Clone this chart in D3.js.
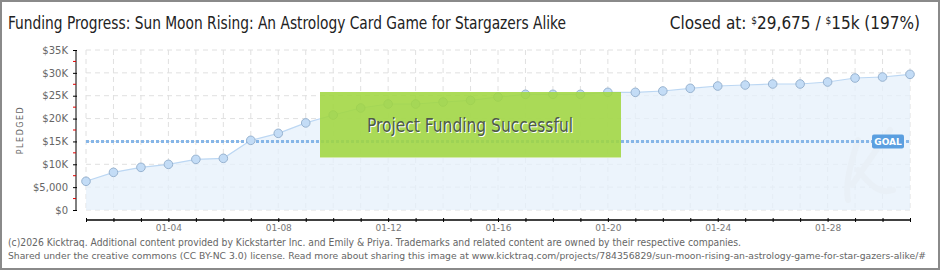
<!DOCTYPE html>
<html>
<head>
<meta charset="utf-8">
<script src="https://cdn.jsdelivr.net/npm/d3@7"></script>
<style>
  body { margin: 0; background: #fff; }
  svg { display: block; }
</style>
</head>
<body>
<svg id="chart" width="940" height="270"></svg>
<script>
// days of the campaign (January)
var days = d3.range(1, 32);
var pledged = [6280, 8240, 9330, 9990, 11080, 11300, 15240, 16770, 19050, 20780,
               22310, 23190, 23190, 23620, 23990, 24720, 25300, 25300, 25300, 25740,
               25740, 26030, 26620, 27120, 27340, 27560, 27560, 28000, 28870, 29090, 29675];
var yTicks = [0, 5000, 10000, 15000, 20000, 25000, 30000, 35000];
var yTickLabels = ["$0", "$5,000", "$10K", "$15K", "$20K", "$25K", "$30K", "$35K"];
var xTickLabels = ["01-04", "01-08", "01-12", "01-16", "01-20", "01-24", "01-28"];
var goal = 15000;

var svg = d3.select("#chart");

// set the dimensions of the plot
var margin = {top: 50, right: 30, bottom: 60, left: 86},
    width = 940 - margin.left - margin.right,
    height = 270 - margin.top - margin.bottom;

var x = d3.scaleLinear().domain([1, 31]).range([margin.left, margin.left + width]);
var y = d3.scaleLinear().domain([0, 35000]).range([margin.top + height, margin.top]);

// outer frame
svg.append("rect")
    .attr("x", 1).attr("y", 1).attr("width", 938).attr("height", 268)
    .style("fill", "#fff").style("stroke", "#8a8a8a").style("stroke-width", 2);

// title
svg.append("text")
    .attr("x", 8).attr("y", 29)
    .attr("textLength", 558).attr("lengthAdjust", "spacingAndGlyphs")
    .style("font-family", "'DejaVu Sans Condensed', 'Liberation Sans Narrow', sans-serif")
    .style("font-size", "17px")
    .style("fill", "#222")
    .text("Funding Progress: Sun Moon Rising: An Astrology Card Game for Stargazers Alike");

var closedText = svg.append("text")
    .attr("x", 920).attr("y", 29)
    .attr("text-anchor", "end")
    .style("font-family", "'DejaVu Sans Condensed', 'Liberation Sans Narrow', sans-serif")
    .style("font-size", "17px")
    .style("fill", "#222");
closedText.append("tspan").text("Closed at:  ");
closedText.append("tspan").style("font-size", "10px").attr("dy", -5).text("$");
closedText.append("tspan").attr("dy", 5).text("29,675 /  ");
closedText.append("tspan").style("font-size", "10px").attr("dy", -5).text("$");
closedText.append("tspan").attr("dy", 5).text("15k (197%)");

// plot background area
var g = svg.append("g");

// grid
g.selectAll(".hgrid")
    .data(yTicks)
    .enter()
    .append("line")
        .attr("x1", x(1)).attr("x2", x(31))
        .attr("y1", function(d) { return y(d); })
        .attr("y2", function(d) { return y(d); })
        .style("stroke", "#e0e0e0")
        .style("stroke-dasharray", "5,4");

g.selectAll(".vgrid")
    .data(days)
    .enter()
    .append("line")
        .attr("x1", function(d) { return x(d); })
        .attr("x2", function(d) { return x(d); })
        .attr("y1", y(35000)).attr("y2", y(0))
        .style("stroke", "#e0e0e0")
        .style("stroke-dasharray", "5,4");

// area under the line
var series = days.map(function(d, i) { return {day: d, value: pledged[i]}; });

g.append("path")
    .datum(series)
    .attr("d", d3.area()
        .x(function(d) { return x(d.day); })
        .y0(y(0))
        .y1(function(d) { return y(d.value); }))
    .style("fill", "#e6f0fb")
    .style("opacity", 0.75);

// faint kicktraq watermark shape
g.append("path")
    .attr("d", "M858,140 C850,165 845,185 848,200 M852,185 L890,130 M858,170 C870,185 880,195 893,190")
    .style("fill", "none")
    .style("stroke", "#e9f0f7")
    .style("stroke-width", 6)
    .style("stroke-linecap", "round");

g.append("path")
    .datum(series)
    .attr("d", d3.line()
        .x(function(d) { return x(d.day); })
        .y(function(d) { return y(d.value); }))
    .style("fill", "none")
    .style("stroke", "#bcd7f3")
    .style("stroke-width", 1.2);

// goal line
g.append("line")
    .attr("x1", x(1)).attr("x2", x(31))
    .attr("y1", y(goal)).attr("y2", y(goal))
    .style("stroke", "#86b6e8")
    .style("stroke-width", 3)
    .style("stroke-dasharray", "3,2");

// points
g.selectAll(".pt")
    .data(series)
    .enter()
    .append("circle")
        .attr("cx", function(d) { return x(d.day); })
        .attr("cy", function(d) { return y(d.value); })
        .attr("r", 4.3)
        .style("fill", "#c3dcf6")
        .style("stroke", "#98b3d0")
        .style("stroke-width", 1);

// goal badge
var gx = 872, gy = y(goal) - 7;
g.append("rect")
    .attr("x", gx).attr("y", gy).attr("width", 32).attr("height", 14).attr("rx", 2)
    .style("fill", "#5b9fe0");
g.append("text")
    .attr("x", gx + 16).attr("y", gy + 10.5)
    .attr("text-anchor", "middle")
    .style("font-family", "'DejaVu Sans', sans-serif")
    .style("font-size", "9px")
    .style("font-weight", "bold")
    .style("fill", "#fff")
    .text("GOAL");

// success box
g.append("rect")
    .attr("x", 320).attr("y", 92).attr("width", 301).attr("height", 66)
    .style("fill", "#a0d640")
    .style("opacity", 0.88);
g.append("line")
    .attr("x1", 320).attr("x2", 621).attr("y1", 157.5).attr("y2", 157.5)
    .style("stroke", "#d3e9a8").style("stroke-width", 1);
g.append("text")
    .attr("x", 471).attr("y", 133)
    .attr("text-anchor", "middle")
    .attr("textLength", 206).attr("lengthAdjust", "spacingAndGlyphs")
    .style("font-family", "'DejaVu Sans Condensed', 'Liberation Sans Narrow', sans-serif")
    .style("font-size", "19px")
    .style("fill", "#fff")
    .text("Project Funding Successful");
g.append("text")
    .attr("x", 470).attr("y", 132)
    .attr("text-anchor", "middle")
    .attr("textLength", 206).attr("lengthAdjust", "spacingAndGlyphs")
    .style("font-family", "'DejaVu Sans Condensed', 'Liberation Sans Narrow', sans-serif")
    .style("font-size", "19px")
    .style("fill", "#4e5a48")
    .text("Project Funding Successful");

// y axis
var yAxis = svg.append("g")
    .attr("transform", "translate(76,0)")
    .call(d3.axisLeft(y).tickValues(yTicks).tickSize(4)
        .tickFormat(function(d, i) { return yTickLabels[i]; }));
yAxis.select(".domain").attr("d", "M0," + y(35000) + "V" + y(0)).style("stroke", "#000");
yAxis.selectAll(".tick line").attr("x2", -3).attr("x1", 1).style("stroke", "#000");
yAxis.selectAll(".tick text")
    .attr("x", -8)
    .style("font-family", "'DejaVu Sans', sans-serif")
    .style("font-size", "10px")
    .style("fill", "#666");

// minor red ticks
svg.selectAll(".minor")
    .data(d3.range(2500, 35000, 5000))
    .enter()
    .append("line")
        .attr("x1", 73).attr("x2", 76)
        .attr("y1", function(d) { return y(d); })
        .attr("y2", function(d) { return y(d); })
        .style("stroke", "#e00000");

svg.append("text")
    .attr("transform", "translate(23,130) rotate(-90)")
    .attr("text-anchor", "middle")
    .style("font-family", "'DejaVu Sans', sans-serif")
    .style("font-size", "8px")
    .style("letter-spacing", "1.5px")
    .style("fill", "#666")
    .text("PLEDGED");

// x axis
var xAxis = svg.append("g")
    .attr("transform", "translate(0,220)")
    .call(d3.axisBottom(x).tickValues(days).tickSize(2)
        .tickFormat(function(d) {
            var i = xTickLabels.indexOf("01-" + d3.format("02d")(d));
            return i >= 0 ? xTickLabels[i] : "";
        }));
xAxis.select(".domain").attr("d", "M" + x(1) + ",0H" + x(31)).style("stroke", "#000").style("stroke-width", 1.5);
xAxis.selectAll(".tick line").attr("y1", -2).style("stroke", "#000");
xAxis.selectAll(".tick text")
    .attr("y", 5)
    .style("font-family", "'DejaVu Sans', sans-serif")
    .style("font-size", "9px")
    .style("fill", "#777");

// footer
svg.append("text")
    .attr("x", 8).attr("y", 246)
    .attr("textLength", 733).attr("lengthAdjust", "spacingAndGlyphs")
    .style("font-family", "'DejaVu Sans', sans-serif")
    .style("font-size", "10px")
    .style("fill", "#666")
    .text("(c)2026 Kicktraq. Additional content provided by Kickstarter Inc. and Emily & Priya. Trademarks and related content are owned by their respective companies.");
svg.append("text")
    .attr("x", 8).attr("y", 259)
    .attr("textLength", 918).attr("lengthAdjust", "spacingAndGlyphs")
    .style("font-family", "'DejaVu Sans Condensed', 'DejaVu Sans', sans-serif")
    .style("font-size", "8.5px")
    .style("fill", "#666")
    .text("Shared under the creative commons (CC BY-NC 3.0) license. Read more about sharing this image at www.kicktraq.com/projects/784356829/sun-moon-rising-an-astrology-game-for-star-gazers-alike/#");
</script>
</body>
</html>
